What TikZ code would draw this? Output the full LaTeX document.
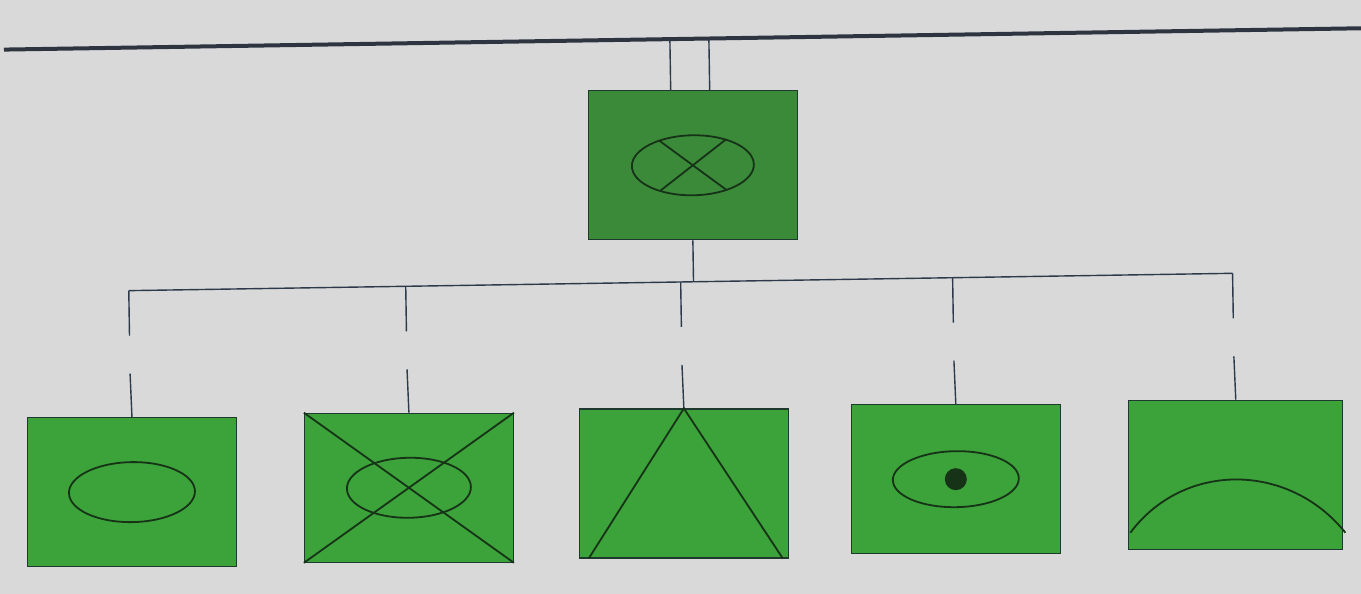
\documentclass[tikz,border=0pt]{standalone}
\usetikzlibrary{calc}
\definecolor{bg}{HTML}{D9D9D9}
\definecolor{topfill}{HTML}{3A8A3A}
\definecolor{boxfill}{HTML}{3CA23A}
\definecolor{edge}{HTML}{1E3A2E}
\definecolor{wire}{HTML}{2C3A4A}
\definecolor{rule}{HTML}{2E3440}
\definecolor{ink}{HTML}{173317}
\begin{document}
\begin{tikzpicture}[x=1pt,y=-1pt,
  panel/.style={draw=edge,line width=1.1pt,minimum width=209pt,minimum height=149pt,
                inner sep=0pt,fill=boxfill},
  wire/.style={draw=wire,line width=1.4pt},
  glyph/.style={draw=ink,line width=1.8pt}]
\fill[bg] (0,0) rectangle (1361,594);
\useasboundingbox (0,0) rectangle (1361,594);
\begin{scope}[rotate around={0.9:(680,300)}]
  % heavy rule across the top
  \coordinate (ruleL) at (8,39);
  \coordinate (ruleR) at (1375,39);
  \draw[draw=rule,line width=4pt] (ruleL) -- (ruleR);

  % root panel
  \node[panel,fill=topfill] (root) at (695,165.5) {};
  \draw[glyph] (root.center) ellipse [x radius=61pt, y radius=30pt];
  \draw[glyph] ($(root.center)+(57:61pt and 30pt)$) -- ($(root.center)+(237:61pt and 30pt)$);
  \draw[glyph] ($(root.center)+(123:61pt and 30pt)$) -- ($(root.center)+(303:61pt and 30pt)$);

  % two feeds from the top rule
  \coordinate (ta) at (674,39);
  \coordinate (tb) at (713,39);
  \draw[wire] (ta) -- (ta |- root.north);
  \draw[wire] (tb) -- (tb |- root.north);

  % child panels
  \foreach \n/\x in {c1/129,c2/406,c3/681,c4/953}
    \node[panel] (\n) at (\x,483.5) {};
  \node[panel,minimum width=214pt] (c5) at (1233,483.5) {};

  % bus
  \coordinate (busL) at (c1 |- 0,282);
  \coordinate (busR) at (c5 |- 0,282);
  \draw[wire] (root.south) -- (root.south |- busL);
  \draw[wire] (busL) -- (busR);

  % broken drops to each child
  \foreach \n in {c1,c2,c3,c4,c5}{
    \coordinate (\n a) at (\n |- 0,282);
    \coordinate (\n b) at (\n |- 0,327);
    \coordinate (\n c) at (\n |- 0,365);
    \draw[wire] (\n a) -- (\n b);
    \draw[wire] (\n c) -- (\n.north);
  }

  % c1: ellipse
  \draw[glyph] (c1.center) ellipse [x radius=63pt, y radius=30pt];

  % c2: crossed ellipse
  \draw[glyph] (c2.center) ellipse [x radius=62pt, y radius=30pt];
  \draw[glyph] (c2.north west) -- (c2.south east);
  \draw[glyph] (c2.north east) -- (c2.south west);

  % c3: peak
  \draw[glyph] ($(c3.south west)+(10,0)$) -- (c3.north) -- ($(c3.south east)+(-6,0)$);

  % c4: ellipse with centre dot
  \draw[glyph] (c4.center) ellipse [x radius=63pt, y radius=28pt];
  \fill[ink] (c4.center) circle (11pt);

  % c5: arch
  \draw[glyph] ($(c5.north west)+(0,133)$)
     .. controls ($(c5.north west)+(55,62)$) and ($(c5.north east)+(-55,62)$)
     .. ($(c5.north east)+(0,133)$);
\end{scope}
\end{tikzpicture}
\end{document}
